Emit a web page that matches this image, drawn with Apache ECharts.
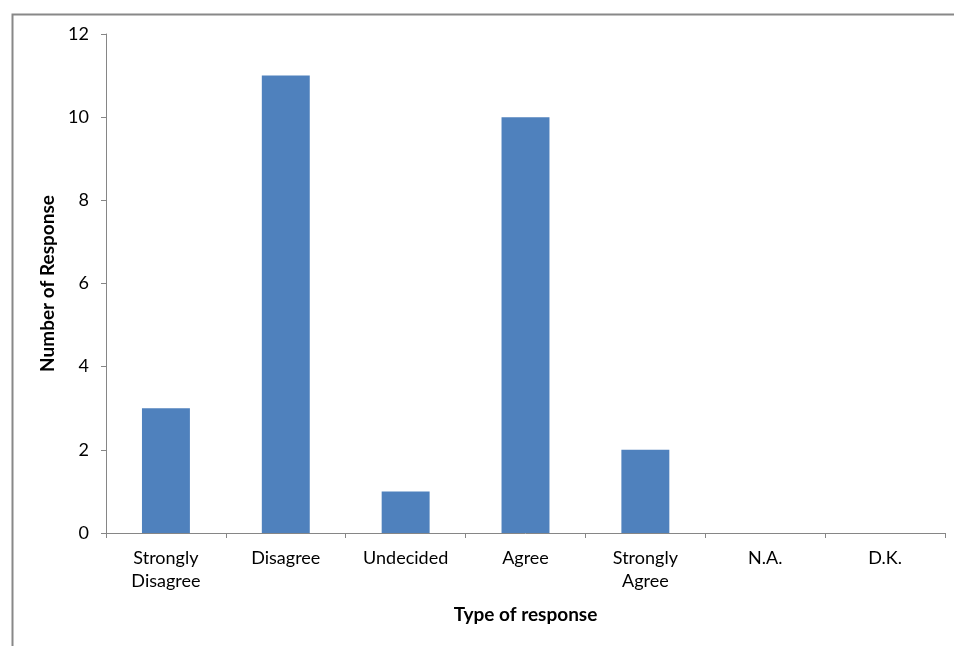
<!DOCTYPE html>
<html>
<head>
<meta charset="utf-8">
<script src="https://cdn.jsdelivr.net/npm/echarts@6/dist/echarts.min.js"></script>
<style>html,body{margin:0;padding:0;background:#fff;}#c{width:954px;height:646px;}</style>
</head>
<body>
<div id="c"></div>
<script>
const categories = ['Strongly\nDisagree', 'Disagree', 'Undecided', 'Agree', 'Strongly\nAgree', 'N.A.', 'D.K.'];
const responses = [3, 11, 1, 10, 2, 0, 0];
const yTicks = [0, 2, 4, 6, 8, 10, 12];

const chart = echarts.init(document.getElementById('c'), null, {renderer: 'canvas'});
const FONT = 'Lato, "Open Sans", sans-serif';
chart.setOption({
  animation: false,
  backgroundColor: '#fff',
  graphic: [{
    type: 'rect', left: 10, top: 12, silent: true,
    shape: {x: 0, y: 0, width: 960, height: 660},
    style: {fill: 'none', stroke: '#888888', lineWidth: 2}
  }],
  grid: {left: 106, right: 9, top: 34, bottom: 113, containLabel: false},
  xAxis: {
    type: 'category',
    data: categories,
    name: 'Type of response',
    nameLocation: 'middle',
    nameGap: 72,
    nameTextStyle: {fontFamily: FONT, fontSize: 19, fontWeight: 'bold', color: '#000'},
    axisLine: {lineStyle: {color: '#868686', width: 1}},
    axisTick: {show: true, length: 5, lineStyle: {color: '#868686'}},
    axisLabel: {fontFamily: FONT, fontSize: 18, color: '#000', margin: 14, lineHeight: 23, interval: 0}
  },
  yAxis: {
    type: 'value',
    min: yTicks[0], max: yTicks[yTicks.length - 1], interval: 2,
    name: 'Number of Response',
    nameLocation: 'middle',
    nameGap: 48,
    nameTextStyle: {fontFamily: FONT, fontSize: 19, fontWeight: 'bold', color: '#000'},
    axisLine: {show: true, lineStyle: {color: '#868686', width: 1}},
    axisTick: {show: true, length: 5, lineStyle: {color: '#868686'}},
    splitLine: {show: false},
    axisLabel: {fontFamily: FONT, fontSize: 18, color: '#000', margin: 17}
  },
  series: [{
    type: 'bar',
    data: responses,
    barWidth: '40%',
    itemStyle: {color: '#4F81BD'}
  }]
});
</script>
</body>
</html>
